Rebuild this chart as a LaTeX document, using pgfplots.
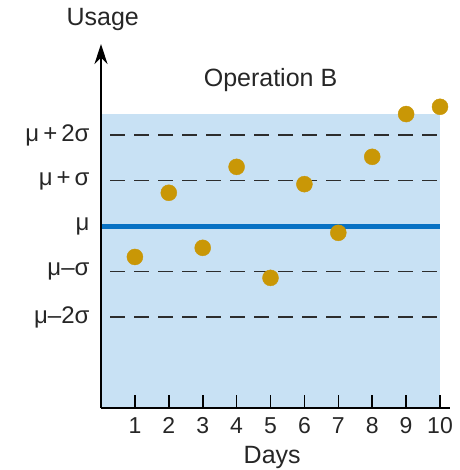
\documentclass[border=0pt]{standalone}
\usepackage{fontspec}
\setmainfont{Liberation Sans}
\usepackage{pgfplots}
\pgfplotsset{compat=1.18}
\usetikzlibrary{arrows.meta}
\definecolor{shade}{RGB}{200,225,244}
\definecolor{gold}{RGB}{201,151,6}
\definecolor{meanblue}{RGB}{8,114,196}
\definecolor{dashgray}{RGB}{45,45,45}
\begin{document}
\begin{tikzpicture}
\useasboundingbox (0,0) rectangle (459pt,470pt);
\begin{axis}[
  at={(101pt,62pt)}, anchor=south west,
  scale only axis, width=349.2pt, height=364pt,
  xmin=0, xmax=10.3, ymin=-4, ymax=4,
  clip=false, axis on top,
  axis x line*=bottom, axis y line*=left,
  x axis line style={-, line width=1.6pt},
  y axis line style={-{Stealth[length=20pt,width=13pt]}, line width=1.6pt},
  xtick={1,2,3,4,5,6,7,8,9,10},
  tick align=inside, major tick length=13pt,
  x tick style={line width=1.6pt, black},
  ytick={-2,-1,0,1,2},
  yticklabels={μ–2σ,μ–σ,μ,μ\,+\,σ,μ\,+\,2σ},
  y tick style={draw=none},
  /pgf/number format/assume math mode=true,
  ticklabel style={text=black!85},
  xticklabel style={font=\fontsize{23}{26}\selectfont, yshift=-6pt},
  yticklabel style={font=\fontsize{24}{27}\selectfont, xshift=-8pt},
]
\addplot[fill=shade, draw=none] coordinates {(0,-4) (10,-4) (10,2.46) (0,2.46)} -- cycle;
\addplot[dashgray, line width=1.6pt, dash pattern=on 15pt off 9pt] coordinates {(0.27,2) (10,2)};
\addplot[dashgray, line width=1.6pt, dash pattern=on 15pt off 9pt] coordinates {(0.27,1) (10,1)};
\addplot[dashgray, line width=1.6pt, dash pattern=on 15pt off 9pt] coordinates {(0.27,-1) (10,-1)};
\addplot[dashgray, line width=1.6pt, dash pattern=on 15pt off 9pt] coordinates {(0.27,-2) (10,-2)};
\addplot[meanblue, line width=5pt] coordinates {(0,0) (10,0)};
\addplot[only marks, mark=*, mark size=8pt, gold, mark options={draw=gold, fill=gold}] coordinates {
(1,-0.68) (2,0.73) (3,-0.48) (4,1.30) (5,-1.14) (6,0.92) (7,-0.15) (8,1.52) (9,2.46) (10,2.62)};
\node[font=\fontsize{25}{28}\selectfont, text=black!85] at (axis cs:5,3.21) {Operation B};
\node[font=\fontsize{25}{28}\selectfont, text=black!85] at (axis cs:0.05,4.53) {Usage};
\node[font=\fontsize{25}{28}\selectfont, text=black!85] at (axis cs:5.05,-5.08) {Days};
\end{axis}
\end{tikzpicture}
\end{document}
